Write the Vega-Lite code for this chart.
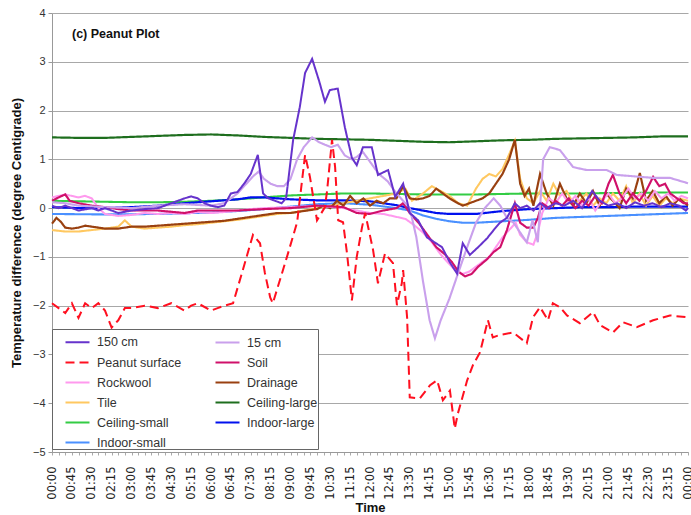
{
"$schema": "https://vega.github.io/schema/vega-lite/v6.json",
"width": 636, "height": 439,
"autosize": {"type": "none"},
"padding": {"left": 52, "top": 13, "right": 3, "bottom": 63},
"background": "white",
"config": {"view": {"stroke": null}, "font": "Liberation Sans"},
"title": {"text": "(c) Peanut Plot", "anchor": "start", "frame": "group", "orient": "top", "offset": -43, "dx": 20, "fontSize": 12.5, "fontWeight": "bold", "font": "Liberation Sans", "color": "#111", "baseline": "alphabetic"},
"data": {"values": [
{"s":"Ceiling-large","t":0,"v":1.45},{"s":"Ceiling-large","t":60,"v":1.44},{"s":"Ceiling-large","t":120,"v":1.44},{"s":"Ceiling-large","t":180,"v":1.46},{"s":"Ceiling-large","t":240,"v":1.48},{"s":"Ceiling-large","t":300,"v":1.5},{"s":"Ceiling-large","t":360,"v":1.51},{"s":"Ceiling-large","t":420,"v":1.49},{"s":"Ceiling-large","t":480,"v":1.46},{"s":"Ceiling-large","t":540,"v":1.44},{"s":"Ceiling-large","t":600,"v":1.42},{"s":"Ceiling-large","t":660,"v":1.41},{"s":"Ceiling-large","t":720,"v":1.4},{"s":"Ceiling-large","t":780,"v":1.38},{"s":"Ceiling-large","t":840,"v":1.36},{"s":"Ceiling-large","t":900,"v":1.35},{"s":"Ceiling-large","t":960,"v":1.37},{"s":"Ceiling-large","t":1020,"v":1.39},{"s":"Ceiling-large","t":1080,"v":1.4},{"s":"Ceiling-large","t":1140,"v":1.42},{"s":"Ceiling-large","t":1200,"v":1.43},{"s":"Ceiling-large","t":1260,"v":1.44},{"s":"Ceiling-large","t":1320,"v":1.45},{"s":"Ceiling-large","t":1380,"v":1.47},{"s":"Ceiling-large","t":1440,"v":1.47},
{"s":"Ceiling-small","t":0,"v":0.15},{"s":"Ceiling-small","t":60,"v":0.14},{"s":"Ceiling-small","t":120,"v":0.13},{"s":"Ceiling-small","t":180,"v":0.12},{"s":"Ceiling-small","t":240,"v":0.12},{"s":"Ceiling-small","t":300,"v":0.13},{"s":"Ceiling-small","t":360,"v":0.15},{"s":"Ceiling-small","t":420,"v":0.18},{"s":"Ceiling-small","t":480,"v":0.22},{"s":"Ceiling-small","t":540,"v":0.26},{"s":"Ceiling-small","t":600,"v":0.28},{"s":"Ceiling-small","t":660,"v":0.3},{"s":"Ceiling-small","t":720,"v":0.3},{"s":"Ceiling-small","t":780,"v":0.29},{"s":"Ceiling-small","t":840,"v":0.28},{"s":"Ceiling-small","t":900,"v":0.28},{"s":"Ceiling-small","t":960,"v":0.28},{"s":"Ceiling-small","t":1020,"v":0.29},{"s":"Ceiling-small","t":1080,"v":0.3},{"s":"Ceiling-small","t":1140,"v":0.3},{"s":"Ceiling-small","t":1200,"v":0.3},{"s":"Ceiling-small","t":1260,"v":0.31},{"s":"Ceiling-small","t":1320,"v":0.31},{"s":"Ceiling-small","t":1380,"v":0.32},{"s":"Ceiling-small","t":1440,"v":0.32},
{"s":"Indoor-small","t":0,"v":-0.12},{"s":"Indoor-small","t":120,"v":-0.13},{"s":"Indoor-small","t":240,"v":-0.12},{"s":"Indoor-small","t":360,"v":-0.09},{"s":"Indoor-small","t":420,"v":-0.06},{"s":"Indoor-small","t":480,"v":-0.02},{"s":"Indoor-small","t":540,"v":0.03},{"s":"Indoor-small","t":600,"v":0.08},{"s":"Indoor-small","t":660,"v":0.1},{"s":"Indoor-small","t":720,"v":0.07},{"s":"Indoor-small","t":780,"v":0.0},{"s":"Indoor-small","t":810,"v":-0.05},{"s":"Indoor-small","t":840,"v":-0.15},{"s":"Indoor-small","t":870,"v":-0.22},{"s":"Indoor-small","t":900,"v":-0.27},{"s":"Indoor-small","t":930,"v":-0.3},{"s":"Indoor-small","t":960,"v":-0.3},{"s":"Indoor-small","t":1000,"v":-0.28},{"s":"Indoor-small","t":1040,"v":-0.26},{"s":"Indoor-small","t":1080,"v":-0.24},{"s":"Indoor-small","t":1140,"v":-0.2},{"s":"Indoor-small","t":1200,"v":-0.18},{"s":"Indoor-small","t":1260,"v":-0.16},{"s":"Indoor-small","t":1320,"v":-0.14},{"s":"Indoor-small","t":1380,"v":-0.12},{"s":"Indoor-small","t":1440,"v":-0.1},
{"s":"Indoor-large","t":0,"v":0.02},{"s":"Indoor-large","t":60,"v":0.0},{"s":"Indoor-large","t":120,"v":0.0},{"s":"Indoor-large","t":180,"v":0.02},{"s":"Indoor-large","t":240,"v":0.05},{"s":"Indoor-large","t":300,"v":0.1},{"s":"Indoor-large","t":360,"v":0.14},{"s":"Indoor-large","t":420,"v":0.18},{"s":"Indoor-large","t":450,"v":0.22},{"s":"Indoor-large","t":480,"v":0.22},{"s":"Indoor-large","t":540,"v":0.18},{"s":"Indoor-large","t":600,"v":0.16},{"s":"Indoor-large","t":660,"v":0.16},{"s":"Indoor-large","t":720,"v":0.14},{"s":"Indoor-large","t":780,"v":0.06},{"s":"Indoor-large","t":810,"v":0.0},{"s":"Indoor-large","t":840,"v":-0.05},{"s":"Indoor-large","t":870,"v":-0.1},{"s":"Indoor-large","t":900,"v":-0.12},{"s":"Indoor-large","t":960,"v":-0.12},{"s":"Indoor-large","t":1020,"v":-0.06},{"s":"Indoor-large","t":1080,"v":-0.02},{"s":"Indoor-large","t":1140,"v":0.0},{"s":"Indoor-large","t":1200,"v":0.02},{"s":"Indoor-large","t":1260,"v":0.02},{"s":"Indoor-large","t":1320,"v":0.03},{"s":"Indoor-large","t":1380,"v":0.03},{"s":"Indoor-large","t":1440,"v":0.03},
{"s":"Tile","t":0,"v":-0.45},{"s":"Tile","t":30,"v":-0.48},{"s":"Tile","t":60,"v":-0.48},{"s":"Tile","t":90,"v":-0.45},{"s":"Tile","t":120,"v":-0.42},{"s":"Tile","t":150,"v":-0.38},{"s":"Tile","t":165,"v":-0.25},{"s":"Tile","t":180,"v":-0.38},{"s":"Tile","t":210,"v":-0.42},{"s":"Tile","t":240,"v":-0.4},{"s":"Tile","t":270,"v":-0.38},{"s":"Tile","t":300,"v":-0.35},{"s":"Tile","t":330,"v":-0.33},{"s":"Tile","t":360,"v":-0.3},{"s":"Tile","t":390,"v":-0.27},{"s":"Tile","t":420,"v":-0.24},{"s":"Tile","t":450,"v":-0.2},{"s":"Tile","t":480,"v":-0.16},{"s":"Tile","t":510,"v":-0.12},{"s":"Tile","t":540,"v":-0.1},{"s":"Tile","t":570,"v":-0.05},{"s":"Tile","t":600,"v":0.0},{"s":"Tile","t":630,"v":0.05},{"s":"Tile","t":660,"v":0.1},{"s":"Tile","t":690,"v":0.15},{"s":"Tile","t":720,"v":0.2},{"s":"Tile","t":750,"v":0.25},{"s":"Tile","t":780,"v":0.3},{"s":"Tile","t":800,"v":0.4},{"s":"Tile","t":815,"v":0.15},{"s":"Tile","t":840,"v":0.3},{"s":"Tile","t":860,"v":0.45},{"s":"Tile","t":880,"v":0.35},{"s":"Tile","t":900,"v":0.25},{"s":"Tile","t":920,"v":0.1},{"s":"Tile","t":940,"v":0.05},{"s":"Tile","t":960,"v":0.4},{"s":"Tile","t":975,"v":0.6},{"s":"Tile","t":990,"v":0.7},{"s":"Tile","t":1005,"v":0.65},{"s":"Tile","t":1020,"v":0.8},{"s":"Tile","t":1035,"v":1.1},{"s":"Tile","t":1048,"v":1.38},{"s":"Tile","t":1060,"v":0.6},{"s":"Tile","t":1075,"v":0.2},{"s":"Tile","t":1090,"v":0.1},{"s":"Tile","t":1105,"v":0.35},{"s":"Tile","t":1120,"v":0.15},{"s":"Tile","t":1135,"v":0.5},{"s":"Tile","t":1150,"v":0.25},{"s":"Tile","t":1165,"v":0.35},{"s":"Tile","t":1180,"v":0.1},{"s":"Tile","t":1195,"v":0.15},{"s":"Tile","t":1210,"v":0.3},{"s":"Tile","t":1225,"v":0.05},{"s":"Tile","t":1240,"v":0.2},{"s":"Tile","t":1255,"v":0.1},{"s":"Tile","t":1270,"v":0.3},{"s":"Tile","t":1285,"v":0.15},{"s":"Tile","t":1300,"v":0.45},{"s":"Tile","t":1315,"v":0.1},{"s":"Tile","t":1330,"v":0.3},{"s":"Tile","t":1345,"v":0.05},{"s":"Tile","t":1360,"v":0.25},{"s":"Tile","t":1375,"v":0.05},{"s":"Tile","t":1390,"v":0.2},{"s":"Tile","t":1405,"v":0.1},{"s":"Tile","t":1420,"v":0.2},{"s":"Tile","t":1440,"v":0.15},
{"s":"Drainage","t":0,"v":-0.32},{"s":"Drainage","t":10,"v":-0.2},{"s":"Drainage","t":20,"v":-0.28},{"s":"Drainage","t":30,"v":-0.4},{"s":"Drainage","t":45,"v":-0.42},{"s":"Drainage","t":60,"v":-0.4},{"s":"Drainage","t":75,"v":-0.36},{"s":"Drainage","t":90,"v":-0.38},{"s":"Drainage","t":105,"v":-0.4},{"s":"Drainage","t":120,"v":-0.42},{"s":"Drainage","t":150,"v":-0.42},{"s":"Drainage","t":180,"v":-0.38},{"s":"Drainage","t":210,"v":-0.38},{"s":"Drainage","t":240,"v":-0.36},{"s":"Drainage","t":270,"v":-0.34},{"s":"Drainage","t":300,"v":-0.32},{"s":"Drainage","t":330,"v":-0.3},{"s":"Drainage","t":360,"v":-0.28},{"s":"Drainage","t":390,"v":-0.26},{"s":"Drainage","t":420,"v":-0.22},{"s":"Drainage","t":450,"v":-0.18},{"s":"Drainage","t":480,"v":-0.14},{"s":"Drainage","t":510,"v":-0.1},{"s":"Drainage","t":540,"v":-0.1},{"s":"Drainage","t":570,"v":-0.06},{"s":"Drainage","t":600,"v":-0.02},{"s":"Drainage","t":615,"v":0.05},{"s":"Drainage","t":630,"v":0.0},{"s":"Drainage","t":645,"v":0.15},{"s":"Drainage","t":660,"v":0.05},{"s":"Drainage","t":675,"v":0.25},{"s":"Drainage","t":690,"v":0.1},{"s":"Drainage","t":705,"v":0.2},{"s":"Drainage","t":720,"v":0.05},{"s":"Drainage","t":735,"v":0.15},{"s":"Drainage","t":750,"v":0.1},{"s":"Drainage","t":765,"v":0.2},{"s":"Drainage","t":780,"v":0.2},{"s":"Drainage","t":795,"v":0.45},{"s":"Drainage","t":810,"v":0.2},{"s":"Drainage","t":825,"v":0.18},{"s":"Drainage","t":840,"v":0.2},{"s":"Drainage","t":855,"v":0.25},{"s":"Drainage","t":870,"v":0.4},{"s":"Drainage","t":885,"v":0.3},{"s":"Drainage","t":900,"v":0.2},{"s":"Drainage","t":915,"v":0.12},{"s":"Drainage","t":930,"v":0.05},{"s":"Drainage","t":945,"v":0.1},{"s":"Drainage","t":960,"v":0.15},{"s":"Drainage","t":975,"v":0.2},{"s":"Drainage","t":990,"v":0.3},{"s":"Drainage","t":1005,"v":0.5},{"s":"Drainage","t":1020,"v":0.7},{"s":"Drainage","t":1035,"v":1.0},{"s":"Drainage","t":1048,"v":1.4},{"s":"Drainage","t":1060,"v":0.5},{"s":"Drainage","t":1070,"v":0.25},{"s":"Drainage","t":1080,"v":0.4},{"s":"Drainage","t":1090,"v":0.05},{"s":"Drainage","t":1105,"v":0.7},{"s":"Drainage","t":1120,"v":0.3},{"s":"Drainage","t":1135,"v":0.05},{"s":"Drainage","t":1150,"v":0.5},{"s":"Drainage","t":1165,"v":0.2},{"s":"Drainage","t":1180,"v":0.05},{"s":"Drainage","t":1195,"v":0.3},{"s":"Drainage","t":1210,"v":0.1},{"s":"Drainage","t":1225,"v":0.35},{"s":"Drainage","t":1240,"v":0.05},{"s":"Drainage","t":1255,"v":0.3},{"s":"Drainage","t":1270,"v":0.15},{"s":"Drainage","t":1285,"v":0.0},{"s":"Drainage","t":1300,"v":0.4},{"s":"Drainage","t":1315,"v":0.2},{"s":"Drainage","t":1331,"v":0.72},{"s":"Drainage","t":1345,"v":0.15},{"s":"Drainage","t":1360,"v":0.35},{"s":"Drainage","t":1375,"v":0.1},{"s":"Drainage","t":1390,"v":0.25},{"s":"Drainage","t":1405,"v":0.05},{"s":"Drainage","t":1420,"v":0.2},{"s":"Drainage","t":1440,"v":0.05},
{"s":"Rockwool","t":0,"v":0.22},{"s":"Rockwool","t":15,"v":0.25},{"s":"Rockwool","t":30,"v":0.28},{"s":"Rockwool","t":45,"v":0.25},{"s":"Rockwool","t":60,"v":0.22},{"s":"Rockwool","t":75,"v":0.25},{"s":"Rockwool","t":90,"v":0.2},{"s":"Rockwool","t":105,"v":0.0},{"s":"Rockwool","t":120,"v":-0.12},{"s":"Rockwool","t":150,"v":-0.16},{"s":"Rockwool","t":180,"v":-0.14},{"s":"Rockwool","t":210,"v":-0.1},{"s":"Rockwool","t":240,"v":-0.12},{"s":"Rockwool","t":270,"v":-0.1},{"s":"Rockwool","t":300,"v":-0.12},{"s":"Rockwool","t":330,"v":-0.08},{"s":"Rockwool","t":360,"v":-0.1},{"s":"Rockwool","t":390,"v":-0.08},{"s":"Rockwool","t":420,"v":-0.05},{"s":"Rockwool","t":450,"v":-0.02},{"s":"Rockwool","t":480,"v":0.0},{"s":"Rockwool","t":540,"v":0.02},{"s":"Rockwool","t":600,"v":0.05},{"s":"Rockwool","t":660,"v":0.0},{"s":"Rockwool","t":690,"v":-0.05},{"s":"Rockwool","t":720,"v":-0.1},{"s":"Rockwool","t":750,"v":-0.12},{"s":"Rockwool","t":780,"v":-0.18},{"s":"Rockwool","t":800,"v":-0.22},{"s":"Rockwool","t":820,"v":-0.35},{"s":"Rockwool","t":840,"v":-0.5},{"s":"Rockwool","t":860,"v":-0.7},{"s":"Rockwool","t":880,"v":-0.95},{"s":"Rockwool","t":900,"v":-1.15},{"s":"Rockwool","t":915,"v":-1.3},{"s":"Rockwool","t":930,"v":-1.35},{"s":"Rockwool","t":945,"v":-1.3},{"s":"Rockwool","t":960,"v":-1.2},{"s":"Rockwool","t":975,"v":-1.1},{"s":"Rockwool","t":990,"v":-1.0},{"s":"Rockwool","t":1005,"v":-0.8},{"s":"Rockwool","t":1020,"v":-0.6},{"s":"Rockwool","t":1035,"v":-0.45},{"s":"Rockwool","t":1050,"v":-0.3},{"s":"Rockwool","t":1060,"v":-0.55},{"s":"Rockwool","t":1075,"v":-0.7},{"s":"Rockwool","t":1090,"v":-0.75},{"s":"Rockwool","t":1100,"v":-0.5},{"s":"Rockwool","t":1110,"v":-0.1},{"s":"Rockwool","t":1125,"v":0.2},{"s":"Rockwool","t":1140,"v":0.1},{"s":"Rockwool","t":1155,"v":0.3},{"s":"Rockwool","t":1170,"v":0.1},{"s":"Rockwool","t":1185,"v":0.25},{"s":"Rockwool","t":1200,"v":0.05},{"s":"Rockwool","t":1215,"v":0.2},{"s":"Rockwool","t":1230,"v":-0.05},{"s":"Rockwool","t":1245,"v":0.15},{"s":"Rockwool","t":1260,"v":0.3},{"s":"Rockwool","t":1275,"v":0.1},{"s":"Rockwool","t":1290,"v":0.2},{"s":"Rockwool","t":1305,"v":0.4},{"s":"Rockwool","t":1320,"v":0.2},{"s":"Rockwool","t":1335,"v":0.3},{"s":"Rockwool","t":1350,"v":0.15},{"s":"Rockwool","t":1365,"v":0.35},{"s":"Rockwool","t":1380,"v":0.2},{"s":"Rockwool","t":1395,"v":0.3},{"s":"Rockwool","t":1410,"v":0.15},{"s":"Rockwool","t":1425,"v":0.25},{"s":"Rockwool","t":1440,"v":0.2},
{"s":"Soil","t":0,"v":0.15},{"s":"Soil","t":15,"v":0.22},{"s":"Soil","t":30,"v":0.28},{"s":"Soil","t":40,"v":0.15},{"s":"Soil","t":60,"v":0.1},{"s":"Soil","t":90,"v":0.05},{"s":"Soil","t":120,"v":0.02},{"s":"Soil","t":150,"v":-0.02},{"s":"Soil","t":180,"v":-0.05},{"s":"Soil","t":240,"v":-0.05},{"s":"Soil","t":300,"v":-0.1},{"s":"Soil","t":330,"v":-0.05},{"s":"Soil","t":360,"v":-0.05},{"s":"Soil","t":420,"v":-0.05},{"s":"Soil","t":480,"v":-0.02},{"s":"Soil","t":540,"v":0.0},{"s":"Soil","t":600,"v":0.05},{"s":"Soil","t":660,"v":0.02},{"s":"Soil","t":690,"v":-0.1},{"s":"Soil","t":720,"v":-0.12},{"s":"Soil","t":750,"v":-0.05},{"s":"Soil","t":780,"v":0.0},{"s":"Soil","t":795,"v":0.1},{"s":"Soil","t":810,"v":-0.1},{"s":"Soil","t":830,"v":-0.3},{"s":"Soil","t":850,"v":-0.55},{"s":"Soil","t":870,"v":-0.8},{"s":"Soil","t":890,"v":-0.95},{"s":"Soil","t":905,"v":-1.1},{"s":"Soil","t":920,"v":-1.3},{"s":"Soil","t":935,"v":-1.4},{"s":"Soil","t":950,"v":-1.35},{"s":"Soil","t":965,"v":-1.2},{"s":"Soil","t":985,"v":-1.05},{"s":"Soil","t":1000,"v":-0.9},{"s":"Soil","t":1015,"v":-0.8},{"s":"Soil","t":1030,"v":-0.45},{"s":"Soil","t":1048,"v":0.1},{"s":"Soil","t":1060,"v":-0.3},{"s":"Soil","t":1075,"v":-0.4},{"s":"Soil","t":1090,"v":-0.4},{"s":"Soil","t":1100,"v":-0.2},{"s":"Soil","t":1110,"v":0.1},{"s":"Soil","t":1125,"v":0.0},{"s":"Soil","t":1140,"v":0.15},{"s":"Soil","t":1155,"v":0.05},{"s":"Soil","t":1170,"v":0.2},{"s":"Soil","t":1185,"v":0.0},{"s":"Soil","t":1200,"v":0.15},{"s":"Soil","t":1215,"v":0.05},{"s":"Soil","t":1230,"v":0.25},{"s":"Soil","t":1245,"v":0.1},{"s":"Soil","t":1260,"v":0.5},{"s":"Soil","t":1270,"v":0.68},{"s":"Soil","t":1285,"v":0.3},{"s":"Soil","t":1300,"v":0.1},{"s":"Soil","t":1315,"v":0.3},{"s":"Soil","t":1330,"v":0.15},{"s":"Soil","t":1345,"v":0.35},{"s":"Soil","t":1361,"v":0.64},{"s":"Soil","t":1375,"v":0.45},{"s":"Soil","t":1388,"v":0.5},{"s":"Soil","t":1400,"v":0.3},{"s":"Soil","t":1415,"v":0.2},{"s":"Soil","t":1430,"v":0.1},{"s":"Soil","t":1440,"v":0.1},
{"s":"15 cm","t":0,"v":0.12},{"s":"15 cm","t":30,"v":0.1},{"s":"15 cm","t":60,"v":0.05},{"s":"15 cm","t":120,"v":0.02},{"s":"15 cm","t":180,"v":0.0},{"s":"15 cm","t":240,"v":0.05},{"s":"15 cm","t":300,"v":0.08},{"s":"15 cm","t":360,"v":0.05},{"s":"15 cm","t":390,"v":0.1},{"s":"15 cm","t":405,"v":0.2},{"s":"15 cm","t":420,"v":0.3},{"s":"15 cm","t":440,"v":0.5},{"s":"15 cm","t":455,"v":0.65},{"s":"15 cm","t":468,"v":0.75},{"s":"15 cm","t":480,"v":0.6},{"s":"15 cm","t":495,"v":0.5},{"s":"15 cm","t":510,"v":0.45},{"s":"15 cm","t":525,"v":0.45},{"s":"15 cm","t":540,"v":0.6},{"s":"15 cm","t":555,"v":1.0},{"s":"15 cm","t":570,"v":1.25},{"s":"15 cm","t":589,"v":1.45},{"s":"15 cm","t":605,"v":1.35},{"s":"15 cm","t":618,"v":1.3},{"s":"15 cm","t":632,"v":1.25},{"s":"15 cm","t":647,"v":1.3},{"s":"15 cm","t":663,"v":1.08},{"s":"15 cm","t":679,"v":1.0},{"s":"15 cm","t":690,"v":1.05},{"s":"15 cm","t":704,"v":1.15},{"s":"15 cm","t":720,"v":0.95},{"s":"15 cm","t":740,"v":0.7},{"s":"15 cm","t":760,"v":0.55},{"s":"15 cm","t":780,"v":0.3},{"s":"15 cm","t":800,"v":0.1},{"s":"15 cm","t":810,"v":0.0},{"s":"15 cm","t":825,"v":-0.6},{"s":"15 cm","t":840,"v":-1.5},{"s":"15 cm","t":855,"v":-2.3},{"s":"15 cm","t":867,"v":-2.67},{"s":"15 cm","t":880,"v":-2.3},{"s":"15 cm","t":900,"v":-1.85},{"s":"15 cm","t":917,"v":-1.4},{"s":"15 cm","t":940,"v":-0.8},{"s":"15 cm","t":960,"v":-0.3},{"s":"15 cm","t":980,"v":0.0},{"s":"15 cm","t":1000,"v":0.2},{"s":"15 cm","t":1015,"v":0.05},{"s":"15 cm","t":1030,"v":-0.2},{"s":"15 cm","t":1045,"v":-0.3},{"s":"15 cm","t":1060,"v":-0.5},{"s":"15 cm","t":1075,"v":-0.7},{"s":"15 cm","t":1088,"v":-0.25},{"s":"15 cm","t":1100,"v":-0.7},{"s":"15 cm","t":1112,"v":1.0},{"s":"15 cm","t":1127,"v":1.25},{"s":"15 cm","t":1150,"v":1.19},{"s":"15 cm","t":1180,"v":0.84},{"s":"15 cm","t":1211,"v":0.78},{"s":"15 cm","t":1256,"v":0.78},{"s":"15 cm","t":1279,"v":0.68},{"s":"15 cm","t":1320,"v":0.65},{"s":"15 cm","t":1361,"v":0.62},{"s":"15 cm","t":1399,"v":0.62},{"s":"15 cm","t":1440,"v":0.51},
{"s":"150 cm","t":0,"v":0.05},{"s":"150 cm","t":15,"v":0.0},{"s":"150 cm","t":30,"v":0.05},{"s":"150 cm","t":45,"v":0.0},{"s":"150 cm","t":60,"v":-0.05},{"s":"150 cm","t":90,"v":0.0},{"s":"150 cm","t":105,"v":-0.05},{"s":"150 cm","t":120,"v":0.0},{"s":"150 cm","t":150,"v":-0.1},{"s":"150 cm","t":180,"v":-0.05},{"s":"150 cm","t":210,"v":-0.02},{"s":"150 cm","t":240,"v":0.0},{"s":"150 cm","t":270,"v":0.1},{"s":"150 cm","t":300,"v":0.2},{"s":"150 cm","t":315,"v":0.24},{"s":"150 cm","t":330,"v":0.2},{"s":"150 cm","t":345,"v":0.1},{"s":"150 cm","t":360,"v":0.05},{"s":"150 cm","t":375,"v":0.02},{"s":"150 cm","t":390,"v":0.05},{"s":"150 cm","t":405,"v":0.3},{"s":"150 cm","t":420,"v":0.33},{"s":"150 cm","t":435,"v":0.5},{"s":"150 cm","t":450,"v":0.7},{"s":"150 cm","t":466,"v":1.09},{"s":"150 cm","t":478,"v":0.3},{"s":"150 cm","t":490,"v":0.2},{"s":"150 cm","t":505,"v":0.15},{"s":"150 cm","t":520,"v":0.1},{"s":"150 cm","t":530,"v":0.2},{"s":"150 cm","t":546,"v":1.4},{"s":"150 cm","t":561,"v":2.07},{"s":"150 cm","t":573,"v":2.77},{"s":"150 cm","t":589,"v":3.06},{"s":"150 cm","t":605,"v":2.6},{"s":"150 cm","t":618,"v":2.18},{"s":"150 cm","t":629,"v":2.42},{"s":"150 cm","t":647,"v":2.45},{"s":"150 cm","t":663,"v":1.66},{"s":"150 cm","t":679,"v":1.03},{"s":"150 cm","t":690,"v":0.88},{"s":"150 cm","t":704,"v":1.25},{"s":"150 cm","t":724,"v":1.25},{"s":"150 cm","t":738,"v":0.68},{"s":"150 cm","t":761,"v":0.78},{"s":"150 cm","t":777,"v":0.23},{"s":"150 cm","t":795,"v":0.5},{"s":"150 cm","t":810,"v":-0.1},{"s":"150 cm","t":829,"v":-0.25},{"s":"150 cm","t":849,"v":-0.6},{"s":"150 cm","t":866,"v":-0.7},{"s":"150 cm","t":883,"v":-0.8},{"s":"150 cm","t":900,"v":-1.1},{"s":"150 cm","t":917,"v":-1.34},{"s":"150 cm","t":930,"v":-0.72},{"s":"150 cm","t":946,"v":-0.96},{"s":"150 cm","t":965,"v":-0.8},{"s":"150 cm","t":985,"v":-0.62},{"s":"150 cm","t":1000,"v":-0.45},{"s":"150 cm","t":1014,"v":-0.3},{"s":"150 cm","t":1030,"v":-0.2},{"s":"150 cm","t":1048,"v":0.1},{"s":"150 cm","t":1060,"v":0.0},{"s":"150 cm","t":1075,"v":0.05},{"s":"150 cm","t":1090,"v":-0.05},{"s":"150 cm","t":1105,"v":0.1},{"s":"150 cm","t":1120,"v":0.0},{"s":"150 cm","t":1140,"v":0.1},{"s":"150 cm","t":1160,"v":0.05},{"s":"150 cm","t":1180,"v":0.15},{"s":"150 cm","t":1200,"v":0.0},{"s":"150 cm","t":1223,"v":0.35},{"s":"150 cm","t":1240,"v":0.15},{"s":"150 cm","t":1260,"v":0.05},{"s":"150 cm","t":1280,"v":0.1},{"s":"150 cm","t":1300,"v":0.0},{"s":"150 cm","t":1320,"v":0.12},{"s":"150 cm","t":1340,"v":0.05},{"s":"150 cm","t":1360,"v":0.1},{"s":"150 cm","t":1380,"v":0.02},{"s":"150 cm","t":1400,"v":0.1},{"s":"150 cm","t":1420,"v":0.05},{"s":"150 cm","t":1435,"v":-0.05},{"s":"150 cm","t":1440,"v":0.0},
{"s":"Peanut surface","t":0,"v":-1.95},{"s":"Peanut surface","t":15,"v":-2.05},{"s":"Peanut surface","t":30,"v":-2.15},{"s":"Peanut surface","t":45,"v":-1.95},{"s":"Peanut surface","t":60,"v":-2.25},{"s":"Peanut surface","t":75,"v":-1.95},{"s":"Peanut surface","t":90,"v":-2.05},{"s":"Peanut surface","t":105,"v":-1.95},{"s":"Peanut surface","t":120,"v":-2.1},{"s":"Peanut surface","t":135,"v":-2.45},{"s":"Peanut surface","t":150,"v":-2.3},{"s":"Peanut surface","t":165,"v":-2.05},{"s":"Peanut surface","t":180,"v":-2.05},{"s":"Peanut surface","t":210,"v":-2.0},{"s":"Peanut surface","t":240,"v":-2.05},{"s":"Peanut surface","t":270,"v":-1.95},{"s":"Peanut surface","t":300,"v":-2.1},{"s":"Peanut surface","t":315,"v":-2.0},{"s":"Peanut surface","t":330,"v":-1.95},{"s":"Peanut surface","t":360,"v":-2.1},{"s":"Peanut surface","t":375,"v":-2.05},{"s":"Peanut surface","t":390,"v":-2.0},{"s":"Peanut surface","t":410,"v":-1.95},{"s":"Peanut surface","t":432,"v":-1.27},{"s":"Peanut surface","t":455,"v":-0.55},{"s":"Peanut surface","t":471,"v":-0.72},{"s":"Peanut surface","t":482,"v":-1.33},{"s":"Peanut surface","t":494,"v":-1.83},{"s":"Peanut surface","t":500,"v":-1.95},{"s":"Peanut surface","t":532,"v":-1.0},{"s":"Peanut surface","t":555,"v":-0.29},{"s":"Peanut surface","t":573,"v":1.09},{"s":"Peanut surface","t":584,"v":0.64},{"s":"Peanut surface","t":600,"v":-0.25},{"s":"Peanut surface","t":618,"v":0.02},{"s":"Peanut surface","t":623,"v":0.37},{"s":"Peanut surface","t":634,"v":1.4},{"s":"Peanut surface","t":641,"v":0.84},{"s":"Peanut surface","t":648,"v":-0.25},{"s":"Peanut surface","t":659,"v":-0.29},{"s":"Peanut surface","t":668,"v":-0.93},{"s":"Peanut surface","t":679,"v":-1.89},{"s":"Peanut surface","t":690,"v":-1.0},{"s":"Peanut surface","t":702,"v":-0.39},{"s":"Peanut surface","t":709,"v":-0.1},{"s":"Peanut surface","t":727,"v":-0.86},{"s":"Peanut surface","t":738,"v":-1.54},{"s":"Peanut surface","t":754,"v":-0.93},{"s":"Peanut surface","t":772,"v":-1.13},{"s":"Peanut surface","t":781,"v":-1.99},{"s":"Peanut surface","t":792,"v":-1.54},{"s":"Peanut surface","t":795,"v":-1.27},{"s":"Peanut surface","t":804,"v":-2.24},{"s":"Peanut surface","t":810,"v":-3.88},{"s":"Peanut surface","t":833,"v":-3.9},{"s":"Peanut surface","t":856,"v":-3.63},{"s":"Peanut surface","t":872,"v":-3.53},{"s":"Peanut surface","t":885,"v":-3.94},{"s":"Peanut surface","t":901,"v":-3.74},{"s":"Peanut surface","t":912,"v":-4.52},{"s":"Peanut surface","t":919,"v":-4.21},{"s":"Peanut surface","t":940,"v":-3.53},{"s":"Peanut surface","t":953,"v":-3.22},{"s":"Peanut surface","t":969,"v":-2.96},{"s":"Peanut surface","t":987,"v":-2.3},{"s":"Peanut surface","t":998,"v":-2.65},{"s":"Peanut surface","t":1014,"v":-2.6},{"s":"Peanut surface","t":1044,"v":-2.55},{"s":"Peanut surface","t":1075,"v":-2.77},{"s":"Peanut surface","t":1089,"v":-2.24},{"s":"Peanut surface","t":1105,"v":-2.03},{"s":"Peanut surface","t":1123,"v":-2.3},{"s":"Peanut surface","t":1134,"v":-1.95},{"s":"Peanut surface","t":1150,"v":-2.03},{"s":"Peanut surface","t":1166,"v":-2.2},{"s":"Peanut surface","t":1195,"v":-2.36},{"s":"Peanut surface","t":1225,"v":-2.13},{"s":"Peanut surface","t":1241,"v":-2.4},{"s":"Peanut surface","t":1270,"v":-2.55},{"s":"Peanut surface","t":1293,"v":-2.34},{"s":"Peanut surface","t":1324,"v":-2.44},{"s":"Peanut surface","t":1361,"v":-2.3},{"s":"Peanut surface","t":1399,"v":-2.2},{"s":"Peanut surface","t":1440,"v":-2.24}
]},
"mark": {"type": "line", "interpolate": "linear"},
"encoding": {
  "x": {"field": "t", "type": "quantitative", "scale": {"domain": [0, 1440], "nice": false, "zero": false},
    "axis": {"values": [0,15,30,45,60,75,90,105,120,135,150,165,180,195,210,225,240,255,270,285,300,315,330,345,360,375,390,405,420,435,450,465,480,495,510,525,540,555,570,585,600,615,630,645,660,675,690,705,720,735,750,765,780,795,810,825,840,855,870,885,900,915,930,945,960,975,990,1005,1020,1035,1050,1065,1080,1095,1110,1125,1140,1155,1170,1185,1200,1215,1230,1245,1260,1275,1290,1305,1320,1335,1350,1365,1380,1395,1410,1425,1440],
      "labelExpr": "datum.value % 45 == 0 ? format(floor(datum.value/60) % 24, '02d') + ':' + format(datum.value % 60, '02d') : ''",
      "labelAngle": -90, "labelFont": "DejaVu Sans", "labelFontSize": 11.5, "labelColor": "#222", "labelPadding": 11, "labelOverlap": false, "labelFlush": false, "labelBound": false,
      "grid": false, "tickSize": 3, "tickColor": "#aaa", "domainColor": "#999", "domainWidth": 1,
      "title": "Time", "titleFontSize": 13, "titleFontWeight": "bold", "titleColor": "#111", "titlePadding": 2}},
  "y": {"field": "v", "type": "quantitative", "scale": {"domain": [-5, 4], "nice": false, "zero": false},
    "axis": {"values": [-5,-4,-3,-2,-1,0,1,2,3,4], "labelFontSize": 11, "labelColor": "#333", "labelPadding": 3,
      "grid": true, "gridColor": "#a8a8a8", "gridWidth": 1.2, "tickSize": 4, "tickColor": "#999", "domainColor": "#999",
      "title": "Temperature difference (degree Centigrade)", "titleFontSize": 13, "titleFontWeight": "bold", "titleColor": "#111", "titlePadding": 9}},
  "color": {"field": "s", "type": "nominal", "title": null,
    "scale": {"domain": ["150 cm","Peanut surface","Rockwool","Tile","Ceiling-small","Indoor-small","15 cm","Soil","Drainage","Ceiling-large","Indoor-large"],
      "range": ["#6633cc","#ff1020","#ff99ee","#ffc860","#33cc44","#4a90ff","#c9a0ec","#d0106a","#994010","#1e6e1e","#0010ee"]},
    "legend": {"orient": "none", "legendX": 0, "legendY": 316, "columns": 2, "gridAlign": "all", "symbolType": "stroke", "symbolSize": 576, "symbolStrokeWidth": 2, "symbolOffset": 12,
      "labelFontSize": 12.5, "labelColor": "#333", "labelFont": "Liberation Sans", "fillColor": "white", "strokeColor": "#666", "padding": 0, "rowPadding": -4, "columnPadding": 20, "labelOffset": 6}},
  "strokeDash": {"field": "s", "type": "nominal", "title": null,
    "scale": {"domain": ["150 cm","Peanut surface","Rockwool","Tile","Ceiling-small","Indoor-small","15 cm","Soil","Drainage","Ceiling-large","Indoor-large"],
      "range": [[1,0],[9,5],[1,0],[1,0],[1,0],[1,0],[1,0],[1,0],[1,0],[1,0],[1,0]]}},
  "strokeWidth": {"field": "s", "type": "nominal", "legend": null,
    "scale": {"domain": ["150 cm","Peanut surface","Rockwool","Tile","Ceiling-small","Indoor-small","15 cm","Soil","Drainage","Ceiling-large","Indoor-large"],
      "range": [2, 2.2, 1.5, 2, 2, 1.5, 2, 2, 2, 2, 2.5]}}
}
}
